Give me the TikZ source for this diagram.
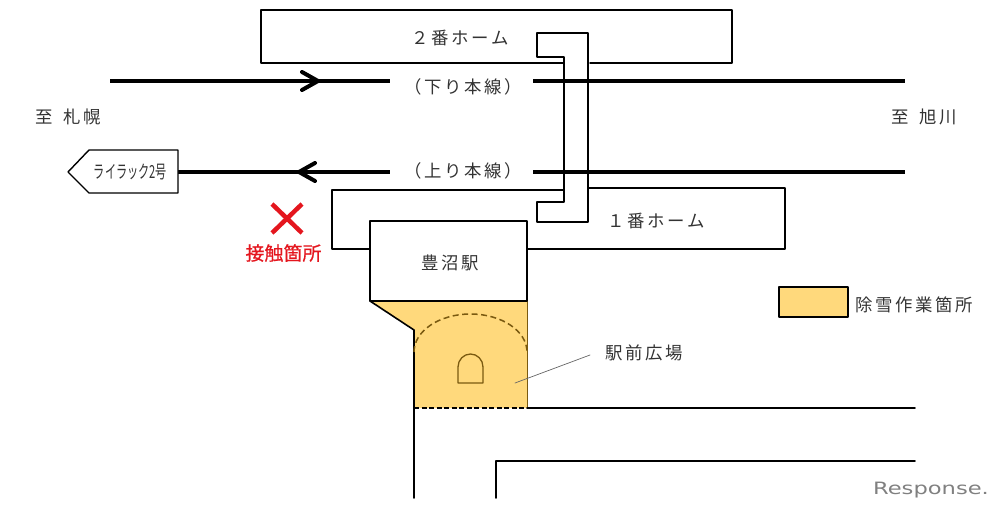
\documentclass[tikz,border=0pt]{standalone}
\usepackage{fontspec}
\setmainfont{Noto Sans CJK JP}
\newfontfamily\jpfont[LetterSpace=15]{Noto Sans CJK JP}
\newfontfamily\redfont[FakeBold=0.7]{Noto Sans CJK JP}
\newfontfamily\logofont{DejaVu Sans}
\definecolor{josetsu}{HTML}{FFD97C}
\definecolor{kogecha}{HTML}{7A5A10}
\definecolor{akairo}{HTML}{E4161E}
\tikzset{
	label jp/.style={font=\fontsize{17.4}{19}\selectfont\jpfont,text=black!80,inner sep=0pt},
	track/.style={line width=4.6pt,line cap=butt},
	wall/.style={line width=1.4pt},
	road/.style={line width=1.6pt}
}
\begin{document}
\begin{tikzpicture}[x=1pt,y=-1pt,line join=round,line cap=round]
	\useasboundingbox (0,0) rectangle (1001,511);
	\def\ytop{81} % kudari
	\def\ybot{172} % nobori
	% hiroba
	\path
	(370,301) coordinate (P1)
	(527,301) coordinate (P2)
	(527,408) coordinate (P3)
	(414,408) coordinate (P4)
	(414,330) coordinate (P5);
	\fill[josetsu] (P1)--(P2)--(P3)--(P4)--(P5)--cycle;
	\draw[kogecha,line width=.8pt] (P2)--(P3);
	\draw[road] (P1)--(P5)--(414,498);
	\draw[kogecha,line width=1.5pt,dash pattern=on 6pt off 3.5pt,line cap=butt] (414,352) arc [x radius=56.5, y radius=38, start angle=180, end angle=360];
	\draw[kogecha,line width=1.3pt] (458,383)--(458,367) arc [x radius=12.5, y radius=13, start angle=180, end angle=360]--(483,383)--cycle;
	\draw[black,line width=1.7pt,dash pattern=on 5pt off 2.5pt,line cap=butt] (P4)--(P3);
	\draw[road] (P3)--(915,408);
	\draw[road] (496,498)--(496,461)--(915,461);
	\draw[black!60,line width=.7pt] (515,383)--(590,355);
	% home
	\draw[wall] (564,63)--(261,63)--(261,10)--(732,10)--(732,63)--(590,63);
	\draw[wall] (564,190)--(332,190)--(332,249)--(370,249);
	\draw[wall] (588,188)--(785,188)--(785,249)--(527,249);
	\draw[wall,fill=white] (370,221) rectangle (527,301);
	% senro
	\draw[track] (110,\ytop)--(390,\ytop) (533,\ytop)--(905,\ytop);
	\draw[track] (178,\ybot)--(390,\ybot) (533,\ybot)--(905,\ybot);
	\draw[line width=4pt] (302,\ytop-9)--(318,\ytop)--(302,\ytop+9);
	\draw[line width=4pt] (315,\ybot-9)--(299,\ybot)--(315,\ybot+9);
	% kyo
	\draw[wall] (537,33)--(588,33)--(588,222)--(537,222)--(537,202)--(564,202)--(564,57)--(537,57)--cycle;
	% ressha
	\draw[wall,fill=white] (68,172)--(89,150)--(178,150)--(178,193)--(89,193)--cycle;
	\node[inner sep=0pt,text=black!80,xscale=.62] (ressha) at (130.5,172) {\fontsize{18}{18}\selectfont ライラック2号};
	% sesshoku
	\draw[akairo,line width=4.5pt,line cap=butt] (272,204)--(302,233) (302,204)--(272,233);
	\node[inner sep=0pt,text=akairo] (sesshoku) at (283.5,253) {\fontsize{19}{20}\selectfont\redfont 接触箇所};
	% hanrei
	\draw[line width=1.6pt,fill=josetsu] (779,287) rectangle (848,317);
	% moji
	\node[label jp] (ni) at (460,38) {２番ホーム};
	\node[label jp] (ichi) at (656,221) {１番ホーム};
	\node[label jp] (kudari) at (463,87) {（下り本線）};
	\node[label jp] (nobori) at (463,171) {（上り本線）};
	\node[label jp] (sapporo) at (68.5,117) {至\hspace{4pt} 札幌};
	\node[label jp] (asahikawa) at (924.5,117) {至\hspace{4pt} 旭川};
	\node[label jp] (toyonuma) at (450,263) {豊沼駅};
	\node[label jp] (hiroba) at (644,353) {駅前広場};
	\node[label jp] (josetsu) at (914,305) {除雪作業箇所};
	\node[inner sep=0pt,text=black!50,xscale=1.33] (logo) at (931,490) {\fontsize{17}{18}\selectfont\logofont Response.};
\end{tikzpicture}
\end{document}
